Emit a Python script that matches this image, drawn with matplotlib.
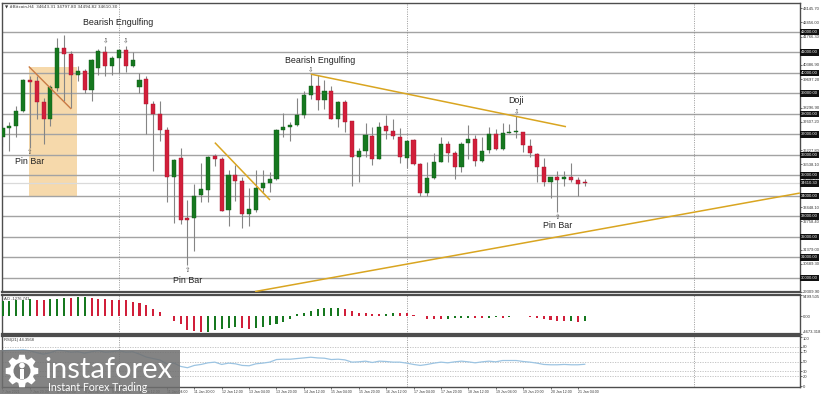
import numpy as np
import matplotlib
matplotlib.use("Agg")
import matplotlib.pyplot as plt
from matplotlib.patches import Rectangle, Polygon, Circle
from matplotlib.transforms import blended_transform_factory

# BTCUSD H4 candles, 7 Jan 04:00 -> 21 Jan 08:00
opens = [36855, 37291, 37403, 38131, 39670, 39621, 38568, 37762, 39267, 41209,
         40917, 39913, 40073, 39150, 40238, 40995, 40349, 40723, 41092, 40349,
         39315, 39704, 38456, 37971, 37194, 34927, 35835, 32908, 32908, 34039,
         34296, 35947, 35821, 33311, 35010, 34733, 33117, 33311, 34365, 34621,
         34816, 37209, 37374, 37437, 37922, 38942, 39345, 38665, 39102, 37762,
         38568, 37646, 35918, 36190, 36918, 35821, 37403, 37160, 36889, 35869,
         36724, 35544, 34136, 34850, 35656, 36516, 36112, 35384, 36563, 36791,
         35704, 36238, 37000, 36306, 37083, 37131, 37131, 36432, 36063, 35384,
         34685, 34898, 34816, 34898, 34767, 34643.31]
highs = [37389, 37582, 38374, 39704, 39830, 39830, 38782, 39427, 41694, 41854,
         41044, 40316, 40189, 40675, 41160, 41320, 40801, 41160, 41320, 40995,
         39995, 39830, 38617, 38617, 37340, 35787, 36321, 33811, 34573, 35593,
         35947, 36030, 35884, 35268, 35495, 34898, 34365, 35268, 35268, 35141,
         37277, 38053, 37597, 38782, 39102, 39937, 39913, 39670, 39345, 38617,
         38665, 37660, 36355, 37534, 37374, 37597, 37922, 37728, 37325, 36724,
         36757, 35593, 35656, 36112, 36889, 36675, 36190, 36627, 37437, 36952,
         36889, 37374, 37243, 37568, 37486, 37889, 37131, 36757, 36112, 35869,
         34898, 35219, 35219, 35626, 34898, 34797.80]
lows = [36418, 36190, 36889, 38083, 36355, 37762, 36515, 37403, 39102, 38617,
        38296, 39587, 39024, 38617, 39913, 39830, 39913, 39995, 40024, 40286,
        39024, 37000, 35219, 36675, 33714, 32680, 32632, 30608, 31287, 33714,
        33714, 35432, 33262, 32520, 33762, 32423, 32549, 33199, 34170, 34170,
        34767, 36889, 36675, 37389, 37811, 38733, 38180, 38214, 37750, 37374,
        37112, 34462, 34685, 35918, 35495, 35787, 36757, 36792, 35626, 35335,
        35495, 33976, 33976, 34816, 35656, 35656, 34816, 35141, 35821, 35461,
        35656, 36112, 36238, 36238, 37049, 36840, 36141, 35918, 34685, 34491,
        33879, 33199, 34491, 34685, 33976, 34494.82]
closes = [37291, 37389, 38131, 39670, 39558, 38568, 37762, 39296, 41209, 40917,
          39913, 40073, 39150, 40641, 41044, 40349, 40723, 41092, 40349, 40641,
          39670, 38456, 37971, 37194, 34927, 35753, 32840, 32826, 34005, 34330,
          35898, 35821, 33277, 35010, 34733, 33117, 33360, 34365, 34621, 34816,
          37194, 37374, 37452, 37922, 38942, 39345, 38699, 39102, 37762, 38568,
          37597, 35918, 36190, 36952, 35821, 37374, 37160, 36918, 35918, 36675,
          35544, 34136, 34850, 35656, 36516, 36112, 35384, 36516, 36791, 35704,
          36190, 37000, 36306, 37083, 37131, 37160, 36466, 36112, 35384, 34685,
          34898, 34782, 34898, 34782, 34573, 34610.30]

ao = [3912, 3950, 4173, 4200, 4347, 4300, 4173, 4520, 4550, 4781,
      4760, 5042, 5060, 4607, 4520, 4347, 4300, 4250, 4173, 3738,
      3477, 2782, 1912, 1043, 100, -1304, -2173, -3651, -3912, -4173,
      -4086, -3651, -3303, -3043, -2869, -3043, -3303, -3043, -2869, -2434,
      -2173, -1565, -869, 435, 869, 1304, 1739, 2173, 2200, 2220,
      1912, 1304, 869, 695, 608, 560, 620, 869, 780, 700,
      350, 50, -700, -760, -800, -700, -600, -450, -400, -430,
      -450, -420, -350, -380, -200, -100, -80, -120, -450, -700,
      -1000, -1300, -1400, -1350, -1550, -1276.741]

rsi = [72, 73, 73, 74, 72, 68, 65, 68, 73, 72,
       69, 70, 67, 70, 72, 69, 70, 72, 69, 70,
       65, 59, 56, 53, 45, 47, 40, 37.3, 42, 44,
       47.3, 48.7, 44, 46.7, 45.3, 42, 41.3, 45.3, 46.7, 48.7,
       54, 54.7, 54.7, 56, 57.3, 58.7, 57.3, 56.7, 54, 54.7,
       53.3, 48.7, 49.3, 50.7, 48, 50.7, 50, 48.7, 48.7, 46.7,
       44, 42, 44, 46.7, 48.7, 47.3, 49.3, 50.7, 49.3, 47.3,
       49.3, 50.7, 49.3, 52, 52, 52, 50, 48.7, 46.7, 44,
       43.3, 43.3, 44, 43.3, 43.3, 44.3568]

time_labels = ["7 Jan 2021", "7 Jan 20:00", "8 Jan 12:00", "9 Jan 04:00", "9 Jan 20:00",
               "10 Jan 12:00", "11 Jan 04:00", "11 Jan 20:00", "12 Jan 12:00", "13 Jan 04:00",
               "13 Jan 20:00", "14 Jan 12:00", "15 Jan 04:00", "15 Jan 20:00", "16 Jan 12:00",
               "17 Jan 04:00", "17 Jan 20:00", "18 Jan 12:00", "19 Jan 04:00", "19 Jan 20:00",
               "20 Jan 12:00", "21 Jan 04:00"]
time_label_bars = list(range(0, 88, 4))

price_ticks = [43145.70, 42456.00, 41766.30, 40386.90, 39697.20, 38296.90, 37607.20,
               36227.80, 35538.10, 34848.40, 33448.10, 32758.40, 31379.00, 30689.30, 29309.90]
levels = [42000, 41000, 40000, 39000, 38000, 37000, 36000, 35000, 34000, 33000, 32000, 31000, 30000]
last_price = 34610.30
week_starts = [17, 59, 101]

ao_ticks = [5499.505, 0.0, -4673.318]
ao_tick_labels = ["5499.505", "0.00", "-4673.318"]
rsi_ticks = [100, 80, 70, 50, 30, 20, 0]
rsi_levels = [80, 70, 50, 30, 20]

# drawn analysis: (bar index, price) end points
trend_lines = [((31.0, 36597), (39.05, 33797)),
               ((45.0, 39937), (82.26, 37374)),
               ((36.86, 29331), (116.4, 34136))]
zone_x = (3.91, 10.92)
zone_y = (34005, 40286)
zone_line = ((3.91, 40286), (9.96, 38262))

pattern_text = ["Bearish Engulfing", "Bearish Engulfing", "Doji", "Pin Bar", "Pin Bar", "Pin Bar"]
pattern_bar = [18, 45, 75, 4, 27, 81]
pattern_side = ["up", "up", "up", "down", "down", "down"]
pattern_offset = [(-5.6, 16.5), (6.7, 9.7), (0, 11.3), (0, -10), (0, -11), (0, -9.2)]
marker_bar = [15, 18, 45, 75, 4, 27, 81]
marker_side = ["up", "up", "up", "up", "down", "down", "down"]

W, H = 823, 396
GREEN = "#16781f"
RED = "#d11f3a"
GOLD = "#d9a520"
SMALL = ["Liberation Sans", "DejaVu Sans"]


def rect(x0, y0, x1, y1):
    return [x0 / W, 1 - y1 / H, (x1 - x0) / W, (y1 - y0) / H]


def right_ticks(a, ticks, labels, size=3.0):
    a.yaxis.tick_right()
    a.set_yticks(ticks)
    a.set_yticklabels(labels)
    a.tick_params(axis="y", labelsize=size, length=1.5, width=0.5, pad=0.6, colors="#333333")
    for lb in a.get_yticklabels():
        lb.set_family(SMALL)


fig = plt.figure(figsize=(W / 100, H / 100), dpi=100)
ax = fig.add_axes(rect(2, 3, 800, 292))
ax_ao = fig.add_axes(rect(2, 295, 800, 334), sharex=ax)
ax_rsi = fig.add_axes(rect(2, 336, 800, 387), sharex=ax)

idx = np.arange(len(opens))
o = np.array(opens); c = np.array(closes)
h = np.array(highs); l = np.array(lows)
up = c >= o

# main price panel
ax.set_xlim(-0.07, 116.42)
ax.set_ylim(29379, 43407)
for lv in levels:
    ax.axhline(lv, color="#a3a3a3", lw=1.0, zorder=1.5)
ax.axhline(last_price, color="#dadada", lw=0.9, zorder=1.5)

ax.add_patch(Rectangle((zone_x[0], zone_y[0]), zone_x[1] - zone_x[0], zone_y[1] - zone_y[0],
                       facecolor="#f6d9ab", edgecolor="none", zorder=1))

ax.vlines(idx, l, h, color="#858585", lw=0.8, zorder=2)
body_bot = np.minimum(o, c)
body_h = np.maximum(np.abs(c - o), 45)
ax.bar(idx[up], body_h[up], bottom=body_bot[up], width=0.6, color=GREEN,
       edgecolor="#0f5a16", lw=0.3, zorder=3)
ax.bar(idx[~up], body_h[~up], bottom=body_bot[~up], width=0.6, color=RED,
       edgecolor="#a8142c", lw=0.3, zorder=3)

for (x0, y0), (x1, y1) in trend_lines:
    ax.plot([x0, x1], [y0, y1], color=GOLD, lw=1.1, zorder=4, solid_capstyle="butt")
ax.plot([zone_line[0][0], zone_line[1][0]], [zone_line[0][1], zone_line[1][1]],
        color="#c97a45", lw=1.0, zorder=4)

for txt, b, side, off in zip(pattern_text, pattern_bar, pattern_side, pattern_offset):
    y = h[b] if side == "up" else l[b]
    ax.annotate(txt, (b, y), xytext=off, textcoords="offset points", ha="center",
                va="center", fontsize=6.4, color="#222222", family=SMALL, zorder=6)
for b, side in zip(marker_bar, marker_side):
    if side == "up":
        ax.annotate("\u21e9", (b, h[b]), xytext=(0, 3.5), textcoords="offset points",
                    ha="center", va="center", fontsize=4.8, color="#555555", zorder=6)
    else:
        ax.annotate("\u21e7", (b, l[b]), xytext=(0, -3.5), textcoords="offset points",
                    ha="center", va="center", fontsize=4.8, color="#555555", zorder=6)

ax.text(0.004, 0.996, "\u25bc #Bitcoin,H4  34643.31 34797.80 34494.82 34610.30",
        transform=ax.transAxes, ha="left", va="top", fontsize=3.0, color="#333333",
        family=["DejaVu Sans"])

right_ticks(ax, price_ticks, ["%.2f" % v for v in price_ticks])
ax.tick_params(axis="x", bottom=False, labelbottom=False)

trans = blended_transform_factory(ax.transAxes, ax.transData)
for lv in levels + [last_price]:
    ax.text(1.0015, lv, "%.2f" % lv, transform=trans, ha="left", va="center", fontsize=3.0,
            color="white", clip_on=False, zorder=10, family=SMALL,
            bbox=dict(boxstyle="square,pad=0.3", fc="#111111", ec="none"))

# AO panel
ao_col = [GREEN] + [GREEN if ao[i] > ao[i - 1] else RED for i in range(1, len(ao))]
ax_ao.bar(idx, ao, width=0.3, color=ao_col, zorder=3)
ax_ao.set_ylim(-4673.318, 5499.505)
right_ticks(ax_ao, ao_ticks, ao_tick_labels)
labs = ax_ao.get_yticklabels()
labs[0].set_va("top")
labs[2].set_va("bottom")
ax_ao.tick_params(axis="x", bottom=False, labelbottom=False)
ax_ao.text(0.003, 0.95, "AO -1276.741", transform=ax_ao.transAxes, ha="left", va="top",
           fontsize=3.0, color="#333333", family=SMALL)

# RSI panel
ax_rsi.plot(idx, rsi, color="#9cc4e2", lw=0.9, zorder=3)
ax_rsi.set_ylim(-2, 102)
for lv in rsi_levels:
    ax_rsi.axhline(lv, color="#bdbdbd", lw=0.6, ls=(0, (1.5, 1.5)), zorder=1)
right_ticks(ax_rsi, rsi_ticks, [str(v) for v in rsi_ticks])
ax_rsi.get_yticklabels()[0].set_va("top")
ax_rsi.set_xticks(time_label_bars)
ax_rsi.set_xticklabels(time_labels)
for lb in ax_rsi.get_xticklabels():
    lb.set_ha("left")
    lb.set_family(SMALL)
ax_rsi.tick_params(axis="x", labelsize=2.5, length=1.5, width=0.5, pad=1.0, colors="#333333")
ax_rsi.text(0.003, 0.96, "RSI(21) 44.3568", transform=ax_rsi.transAxes, ha="left", va="top",
            fontsize=3.0, color="#333333", family=SMALL)

for a in (ax, ax_ao, ax_rsi):
    for ws in week_starts:
        a.axvline(ws, color="#8a8a8a", lw=0.6, ls=(0, (1.2, 1.6)), zorder=1.6)
    for s in a.spines.values():
        s.set_color("#4d4d4d")
        s.set_linewidth(1.0)
ax.spines["bottom"].set_linewidth(1.6)
ax_ao.spines["top"].set_linewidth(1.6)
ax_ao.spines["bottom"].set_linewidth(1.6)
ax_rsi.spines["top"].set_linewidth(1.6)

# instaforex watermark
lg = fig.add_axes(rect(0, 350, 180, 394))
lg.set_xlim(0, 180)
lg.set_ylim(44, 0)
lg.axis("off")
lg.add_patch(Rectangle((0, 0), 180, 44, facecolor="#6f6f6f", alpha=0.85, edgecolor="none"))
n_teeth = 8
pts = []
for k in range(n_teeth):
    a0 = 2 * np.pi * k / n_teeth
    for da, r in ((-0.30, 12.5), (-0.17, 16.5), (0.17, 16.5), (0.30, 12.5)):
        pts.append((22 + r * np.cos(a0 + da), 21 + r * np.sin(a0 + da)))
lg.add_patch(Polygon(pts, closed=True, facecolor="white", edgecolor="none"))
lg.add_patch(Circle((22, 21), 8.5, facecolor="#7a7a7a", edgecolor="none"))
lg.add_patch(Circle((22, 15.5), 2.8, facecolor="white", edgecolor="none"))
lg.add_patch(Rectangle((19.6, 19), 4.8, 10, facecolor="white", edgecolor="none"))
lg.text(44, 28, "instaforex", fontsize=21, color="white", family=["Lato", "DejaVu Sans"],
        ha="left", va="baseline")
lg.text(47.5, 41, "Instant Forex Trading", fontsize=7.6, color="white",
        family=["Lato", "DejaVu Sans"], ha="left", va="baseline")

fig.savefig("out.png", dpi=100)
